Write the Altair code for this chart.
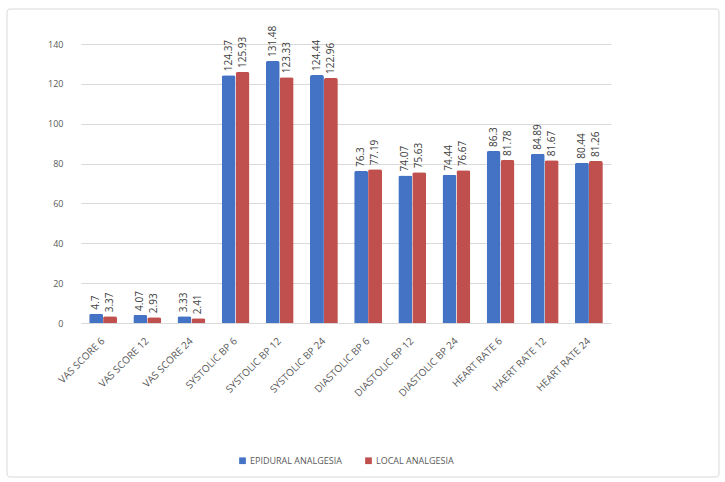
import altair as alt
import pandas as pd

# Category labels along the x axis (order as recorded)
categories = [
    "VAS SCORE 6", "VAS SCORE 12", "VAS SCORE 24",
    "SYSTOLIC BP 6", "SYSTOLIC BP 12", "SYSTOLIC BP 24",
    "DIASTOLIC BP 6", "DIASTOLIC BP 12", "DIASTOLIC BP 24",
    "HEART RATE 6", "HAERT RATE 12", "HEART RATE 24",
]

# Mean values for each group
epidural = [4.7, 4.07, 3.33, 124.37, 131.48, 124.44, 76.3, 74.07, 74.44, 86.3, 84.89, 80.44]
local = [3.37, 2.93, 2.41, 125.93, 123.33, 122.96, 77.19, 75.63, 76.67, 81.78, 81.67, 81.26]

series_names = ["EPIDURAL ANALGESIA", "LOCAL ANALGESIA"]
series_colors = ["#4472C4", "#C0504D"]
y_ticks = [0, 20, 40, 60, 80, 100, 120, 140]

rows = []
for cat, e, l in zip(categories, epidural, local):
    rows.append({"category": cat, "group": series_names[0], "value": e})
    rows.append({"category": cat, "group": series_names[1], "value": l})
df = pd.DataFrame(rows)

W, H = 530, 279
LEFT, TOP = 81, 44

x_enc = alt.X(
    "category:N",
    sort=categories,
    scale=alt.Scale(paddingInner=0.37, paddingOuter=0.185),
    axis=alt.Axis(
        title=None, labelAngle=-45, labelAlign="right", labelBaseline="middle",
        labelFontSize=10, labelColor="#595959", labelFont="Open Sans",
        labelPadding=16, ticks=False, domain=False, grid=False,
    ),
)
y_enc = alt.Y(
    "value:Q",
    scale=alt.Scale(domain=[0, 140], nice=False),
    axis=alt.Axis(
        title=None, values=y_ticks, labelOverlap=False, labelFontSize=9,
        labelColor="#595959", labelFont="Open Sans", labelPadding=18,
        ticks=False, domain=False, gridColor="#D9D9D9", gridWidth=1,
    ),
)
xoff = alt.XOffset("group:N", sort=series_names)
color_enc = alt.Color(
    "group:N",
    sort=series_names,
    scale=alt.Scale(domain=series_names, range=series_colors),
    legend=alt.Legend(
        title=None, orient="none", direction="horizontal",
        legendX=157, legendY=412, symbolType="square", symbolSize=45,
        symbolStrokeWidth=0, labelFontSize=9, labelColor="#595959",
        labelFont="Open Sans", columnPadding=22, labelOffset=3,
    ),
)

bars = alt.Chart(df).mark_bar(cornerRadiusTopLeft=2, cornerRadiusTopRight=2).encode(
    x=x_enc, y=y_enc, xOffset=xoff, color=color_enc,
)

labels = alt.Chart(df).mark_text(
    angle=270, align="left", baseline="middle", dx=4,
    fontSize=10, font="Open Sans", color="#404040",
).encode(
    x=x_enc,
    y=y_enc,
    xOffset=xoff,
    text=alt.Text("value:Q"),
)

# Thin rounded frame around the whole figure
frame = alt.Chart(pd.DataFrame({"f": [0]})).mark_rect(
    fill=None, stroke="#D9D9D9", strokeWidth=1, cornerRadius=3,
).encode(
    x=alt.value(7 - LEFT), x2=alt.value(719 - LEFT),
    y=alt.value(9 - TOP), y2=alt.value(477 - TOP),
)

chart = alt.layer(bars, labels, frame).properties(
    width=W, height=H,
    background="white",
    autosize=alt.AutoSizeParams(type="none"),
    padding={"left": LEFT, "top": TOP, "right": 725 - LEFT - W, "bottom": 482 - TOP - H},
).configure_view(strokeWidth=0)

chart.save("out.html", embed_options={"renderer": "svg", "actions": False})
